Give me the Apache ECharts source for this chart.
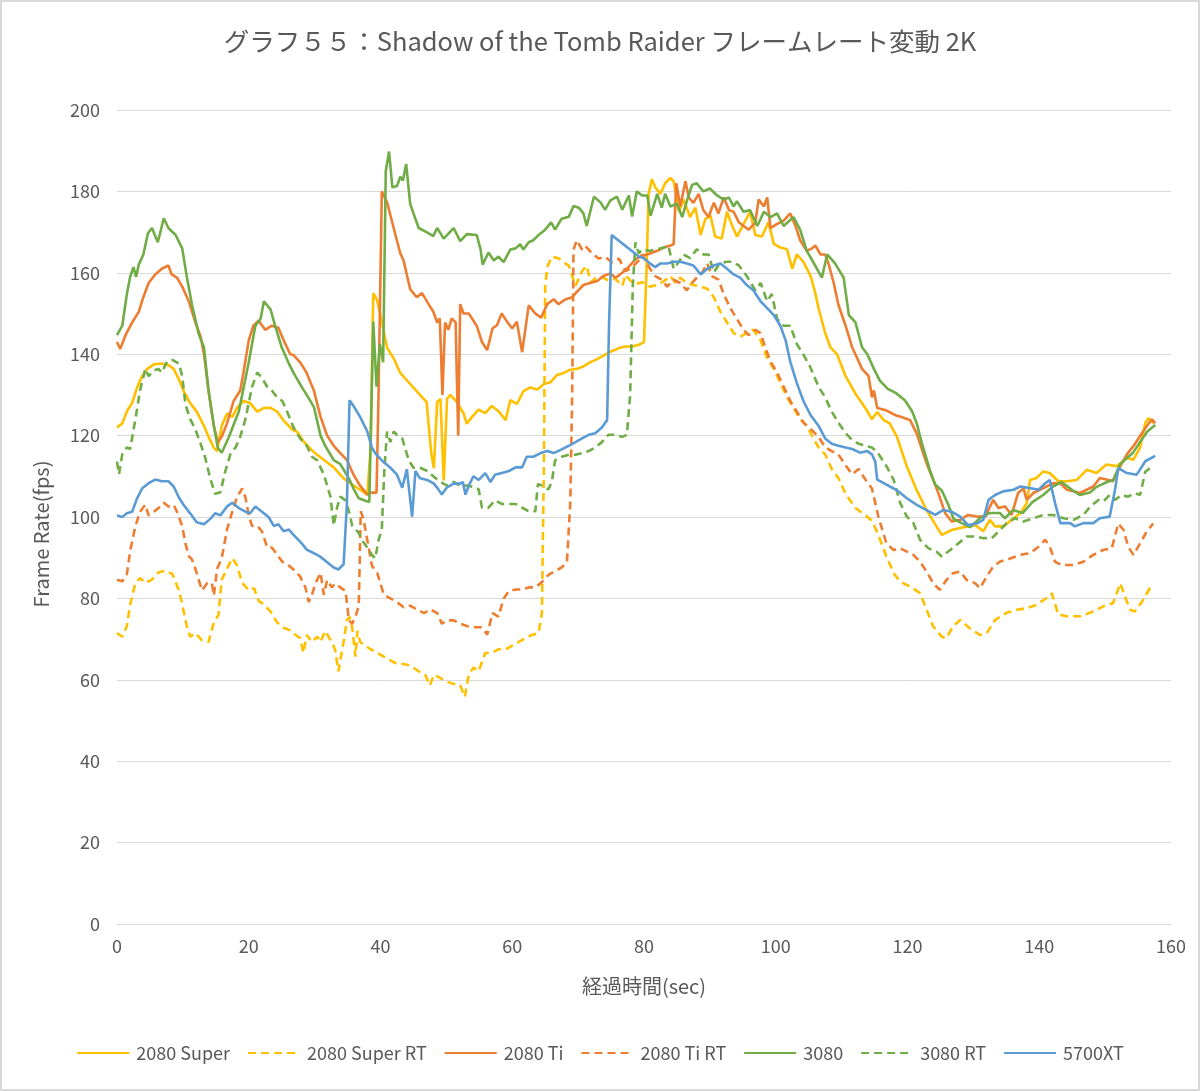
<!DOCTYPE html>
<html><head><meta charset="utf-8">
<script src="https://cdn.jsdelivr.net/npm/echarts@6/dist/echarts.min.js"></script>
<style>
html,body{margin:0;padding:0;background:#fff;}
#chart{position:absolute;left:0;top:0;width:1200px;height:1091px;}
#frame{position:absolute;left:0;top:0;width:1200px;height:1091px;box-sizing:border-box;border:2px solid #d9d9d9;pointer-events:none;}
</style></head>
<body>
<div id="chart"></div><div id="frame"></div>
<script>
const seriesNames = ['2080 Super','2080 Super RT','2080 Ti','2080 Ti RT','3080','3080 RT','5700XT'];
const xTicks = [0,20,40,60,80,100,120,140,160];
const yTicks = [0,20,40,60,80,100,120,140,160,180,200];

const s2080S = [[0,122],[0.8,123],[1.5,126],[2.3,128],[3,131.6],[3.8,134.6],[4.6,136.4],[5.6,137.5],[6.8,137.7],[7.8,137.3],[8.6,136.4],[9.4,133.8],[10.1,131],[11.1,128],[12.1,125.9],[13.2,122.4],[13.9,119.7],[14.7,117],[15.2,116.2],[15.9,122.4],[16.7,125.4],[17.5,124.6],[18.2,126.8],[19.2,128.5],[20.2,128],[21.3,125.9],[22.3,126.8],[23.3,126.8],[24.3,125.9],[25.3,123.7],[26.6,121.5],[27.3,121],[28.3,118.6],[29.9,115.9],[31.4,114],[32.9,112.2],[34.4,109.5],[35.9,107.7],[37.2,106.4],[38,105.5],[38.5,116.7],[38.9,155],[39.5,153.2],[40.2,148],[41,141.6],[42,139],[43,135.4],[44,133.6],[45,131.8],[46,130],[47,128.2],[47.7,115.7],[48.1,112],[48.6,128.2],[49.1,129],[49.6,109],[50.1,129],[50.6,130],[51.6,128.2],[52.6,125.5],[53.1,122.9],[53.9,124.6],[54.9,126.4],[55.9,125.5],[56.9,127.3],[57.9,126],[59,123.8],[59.7,128.7],[60.7,127.8],[61.7,130.9],[62.7,131.8],[63.8,131.3],[64.8,132.7],[65.8,133.1],[66.8,134.9],[67.8,135.4],[68.8,136.2],[69.8,136.4],[70.8,137],[71.8,138],[72.9,138.8],[73.9,139.7],[74.9,140.6],[76.2,141.5],[77.2,141.9],[78.2,141.9],[79.2,142.3],[80,143],[80.4,161.8],[80.7,179.4],[81.2,183],[81.7,181],[82.5,179.4],[83.2,182],[84,183.3],[84.5,182.5],[85.3,175],[86,178],[87,173.7],[87.8,176],[88.6,169.3],[89.3,173.2],[90.1,174],[90.8,168.9],[91.8,168.4],[92.6,175],[93.4,171.5],[94.1,168.9],[95.1,171.9],[96.1,175],[96.9,169.3],[97.9,168.9],[98.9,172.4],[99.7,167.1],[100.7,166.2],[101.7,165.8],[102.5,161],[103.2,164.5],[104.2,162.7],[105.3,159.2],[106,155],[106.5,151.3],[107.5,145.2],[108.3,141.7],[109.3,140],[110.6,134.6],[112.1,130.3],[113.6,126.8],[114.6,124],[115.4,125.8],[116.4,123.8],[117.3,123],[118.4,119.7],[119.9,112.4],[121.4,106.6],[122.9,101.7],[124.4,97.7],[125.2,95.6],[126.7,96.8],[128.5,97.5],[130.3,98],[131.5,96.5],[132.5,99.3],[133.3,97.7],[134.6,97.7],[135.8,99.3],[137.1,100.9],[138.1,103.4],[138.6,109.1],[139.6,109.6],[140.6,111.2],[141.6,110.8],[142.9,108.8],[144.2,108.8],[145.7,109.1],[147.2,111.6],[148.7,110.8],[150.2,112.9],[151.8,112.5],[153.3,114.5],[154.3,114.1],[155.3,117],[156.1,123.1],[156.6,124.3],[157.3,123.1]];

const s2080SRT = [[0,71.5],[0.8,70.6],[1.5,73.2],[2,78.5],[2.8,83.8],[3.5,85],[4.3,83.8],[5.3,84.6],[6.3,86.4],[7.3,86.8],[8.4,86],[9.4,82],[9.9,78.5],[10.6,73.2],[11.1,70.6],[11.9,71.5],[12.9,69.7],[13.9,69.3],[14.7,74.1],[15.4,75.9],[15.9,84.6],[16.7,87.3],[17.5,89.9],[18.2,88.2],[19,83.8],[20,82],[20.8,82.5],[21.5,79.4],[22.3,78.5],[23.3,76.8],[24.3,74.1],[25.3,72.8],[26.2,72.2],[27.8,70.2],[28.3,66.6],[28.8,71],[29.6,69.3],[30.4,70.6],[30.9,69.3],[31.6,72],[32.4,69.8],[33.1,67.5],[33.6,62.1],[34.4,69.3],[34.9,74.6],[35.3,75.5],[35.7,72.9],[36.2,65.7],[36.5,72],[36.9,69.3],[37.7,68.4],[38.5,67.5],[39.5,66.6],[40.5,65.7],[41.5,64.8],[42.5,63.9],[43.5,63.9],[44.5,63.5],[45.8,62.1],[46.8,61.2],[47.5,58.6],[48.1,61.2],[49.1,60.4],[50.1,59.5],[51.1,59],[52.1,58.6],[52.8,55.8],[53.4,61.2],[54.1,63],[54.9,62.1],[55.9,66.6],[56.9,66.6],[57.9,67.5],[59,67.5],[60,68.4],[61,69.3],[62,70.2],[63,71],[64,71.5],[64.5,76.4],[64.8,112],[65,156.8],[65.3,161.3],[66,164],[67.1,163.5],[67.8,162.6],[68.6,161.7],[69.6,156.8],[70.6,160.4],[71.3,161.7],[71.9,157.7],[72.6,158.6],[73.6,159],[74.6,158.1],[75.6,158.6],[76.7,156.8],[77.2,159.5],[77.9,158.1],[78.7,157.2],[79.7,157.7],[80.9,156.6],[82,157],[83,157.9],[84,159.2],[84.8,157.5],[85.5,158.8],[86.5,157.5],[87.5,157],[88.6,156.6],[89.6,156.1],[90.6,154],[91.6,150.4],[92.6,147.8],[93.6,145.2],[94.6,144.3],[95.6,145.2],[96.6,146],[97.7,143.4],[98.7,139],[99.7,136.4],[100.7,132.9],[101.7,129.4],[102.7,126.8],[103.7,124.1],[104.7,122.4],[105.5,120],[106.5,117.1],[107.5,115.4],[108.5,111.8],[109.5,109.6],[110.6,105.7],[112.1,102.2],[113.6,100.4],[114.6,99.1],[115.6,95.5],[116.8,90.3],[117.9,86.2],[118.9,84.1],[120.4,82.9],[121.9,81.3],[122.9,77.2],[123.9,73.1],[125.2,70.6],[125.9,70.2],[126.9,73.1],[128,74.7],[129.5,72.6],[131,71],[132,71.4],[133.3,74.7],[135,76.4],[136.6,77.2],[138.1,77.6],[139.6,78.4],[141.1,80.1],[141.9,81.3],[142.9,76],[144.2,75.6],[146.2,75.6],[148.2,76.8],[150.2,78.4],[151.2,78.8],[152.3,83.7],[153,80.5],[153.8,77.2],[154.5,76.8],[155.6,79.2],[156.8,82.5],[157.3,83]];

const s2080Ti = [[0,143],[0.5,141.3],[1.3,144.7],[2.3,147.8],[3.3,150.4],[4,154],[4.8,157.5],[5.8,159.6],[6.8,161],[7.8,161.8],[8.3,159.6],[9.1,158.8],[9.9,156.6],[10.9,153],[11.9,147.8],[12.7,144.3],[13.2,140],[13.9,131],[14.7,122.4],[15.3,118.4],[15.9,119.7],[16.7,123],[17.7,128.5],[18.7,131],[19.2,135.5],[20,143.4],[20.7,147],[21.5,148.2],[22.5,146],[23.5,147],[24.5,146.5],[25.3,143.4],[26.3,140],[26.8,139.8],[27.8,138],[28.8,135.4],[29.9,131],[30.9,124.6],[31.9,120],[32.9,117.5],[33.9,115.7],[34.9,114],[35.9,110.4],[36.9,107.7],[38,105.5],[38.7,106],[39.4,106],[39.7,130],[40.2,180],[41,177.3],[42,171],[43,164.8],[43.5,163],[44.5,156],[45.5,154],[46.3,155],[47.3,152.3],[48,150.5],[48.6,147.8],[49,148.8],[49.4,130],[49.8,147.8],[50.3,146],[50.8,148.8],[51.4,147.8],[51.8,120],[52.1,152.3],[52.6,150],[53.4,150],[54.6,147],[55.4,143],[56.2,141],[57,146.3],[57.7,147.2],[58.4,150],[59.2,148],[60,146.3],[60.7,148],[61.5,140.5],[62.5,152],[63.5,150],[64.4,149],[65.3,152.3],[66.3,153.5],[67,152.3],[68.1,153.5],[69.1,154],[69.8,155.3],[70.8,157],[71.8,157.5],[72.9,158],[73.9,159.3],[74.9,159.8],[75.7,158.8],[76.7,160],[77.7,161.5],[78.7,163.3],[79.7,164.2],[80.5,164.5],[82,165.4],[83,166.2],[84,166.7],[84.5,167],[84.9,182],[85.5,176.3],[86.3,182.5],[86.8,178.5],[87.5,177.2],[88.3,179.4],[89,175.4],[89.8,173.7],[90.6,177.2],[91.3,174.6],[92.1,178.5],[92.9,175.4],[93.6,175],[94.4,172.4],[95.1,171.5],[95.9,170.6],[96.9,172.4],[97.4,178],[98.2,176.3],[98.7,178.5],[99.2,171],[100.2,172],[101.2,172.8],[102.2,174.6],[103,171.5],[103.7,168],[104.7,165.4],[105.5,166],[106,166.7],[106.8,164.5],[107.5,164.5],[108,162.3],[108.8,157.5],[109.5,152.2],[110.6,147],[111.6,141.7],[113.1,136.4],[114.1,134.6],[114.6,129.4],[114.9,131.1],[115.4,126.8],[116.6,126.3],[118.2,125],[119.2,124.5],[120.4,123.8],[121.4,120.5],[122.9,113.2],[124.7,105.8],[125.7,101],[126.7,98.9],[128,99.3],[129.2,100.5],[130.5,100.1],[131.8,100.1],[132.5,102.5],[133,104.2],[133.8,102.2],[134.8,102.6],[135.8,100.5],[136.8,105.9],[137.6,107.1],[138.1,104.2],[139.1,105.9],[140.1,106.7],[141.1,107.5],[142.1,108.3],[143.2,108.3],[144.2,106.7],[145.2,106.3],[146.2,105.9],[147.2,106.7],[148.2,107.5],[149.2,109.6],[150.2,109.2],[151.2,108.8],[152.3,112.5],[153.3,115.4],[154.3,117.4],[155.3,119.9],[156.3,122.3],[157.1,124],[157.6,123]];

const s2080TiRT = [[0,84.6],[0.8,84.2],[1.5,86],[2,91.7],[2.8,97.8],[3.5,101.3],[4.3,103],[4.8,100.4],[5.6,101.3],[6.3,102.2],[7.1,103.5],[7.8,102.6],[8.6,103],[9.1,101.3],[9.9,97.8],[10.4,93.4],[10.9,90.4],[11.4,89.5],[11.9,87.3],[12.4,84.6],[12.9,82],[13.7,83.8],[14.4,83.8],[14.7,80.7],[15.2,87.3],[15.9,89.9],[16.7,96.9],[17.5,101.3],[18.2,104.8],[19,107],[19.5,104.8],[20,100.4],[20.5,97.8],[21.3,97.8],[22,96.5],[22.8,92.5],[23.5,92.5],[24.3,90.8],[25.1,89],[25.8,88.5],[26.8,87.1],[27.8,85.4],[28.6,82.7],[29.1,79.1],[29.6,80.9],[30.1,83.6],[30.9,86.3],[31.4,80.9],[31.9,84.5],[32.6,82.7],[33.1,83.6],[33.9,82.7],[34.7,81.8],[35.2,74.6],[35.7,73.8],[36.2,75.5],[36.7,78.2],[37,101.4],[37.4,99.6],[38,94.3],[38.7,88],[39.5,86.3],[40.5,80.9],[41.5,80],[42.5,79.1],[43.5,77.8],[44.5,78.2],[45.5,77.3],[46.6,76.4],[47.6,77.3],[48.6,76.4],[49.3,73.8],[50.1,74.6],[51.1,74.6],[52.1,73.8],[53.1,73.2],[54.4,72.9],[55.4,72.9],[56.2,71.1],[57,76.4],[57.9,75.5],[58.7,80],[59.5,81.8],[60.5,82.2],[61.5,82.2],[62.5,82.7],[63.5,82.7],[64.5,84],[65.5,85.8],[66.5,86.7],[67.5,87.6],[68.3,88.9],[68.8,103.2],[69.1,130],[69.3,165.7],[69.8,168],[70.6,165.7],[71.1,166.6],[72.1,164.8],[73.1,163.5],[74.1,163.9],[75.1,162.6],[76.2,163.5],[77.2,160.4],[78.2,161.3],[79.2,163],[79.7,164.5],[80,163.6],[80.9,161],[81.7,159.2],[82.7,158.3],[83.5,156.6],[84.5,158.3],[85.5,157.5],[86.5,155.7],[87.3,157.5],[88,158.8],[88.8,160],[89.6,162.3],[90.3,159.2],[91.3,158.3],[92.1,154.8],[93.1,151.3],[94.1,148.7],[95.1,146],[95.9,144.7],[96.9,146],[97.7,145.2],[98.4,141.7],[99.2,138.2],[100.2,135.5],[101.2,132],[102.2,128.5],[103.2,125.9],[104.2,123.2],[105.2,121.8],[106.5,119.7],[107.5,117.1],[108.5,116.2],[109.5,115.4],[110.6,112.7],[111.6,110.5],[112.6,111.8],[113.6,109.2],[114.6,107],[115.6,100],[116.8,93.5],[117.9,91.9],[118.9,92.3],[119.9,91.5],[120.9,90.7],[121.9,89],[122.9,86.6],[123.9,83.7],[124.9,82.1],[125.9,84.5],[126.9,86.2],[128,86.6],[129,84.5],[130.3,83.7],[131,82.5],[132,85.3],[133,87.8],[134,89],[135.6,89.8],[137.1,90.7],[138.6,91.1],[139.9,92.7],[140.9,94.4],[141.6,92.7],[142.4,89],[143.4,88.2],[145.2,88.2],[146.7,89],[148.2,90.7],[149.7,91.9],[151,92.3],[152,98.4],[152.8,96.8],[153.5,92.7],[154.3,90.7],[155.3,93.5],[156.3,96.4],[157.3,98.4]];

const s3080 = [[0,144.7],[0.8,147],[1.5,154.8],[2,159],[2.5,161.4],[2.9,159],[3.3,162],[4,164.5],[4.7,169.7],[5.3,171],[6.2,167.5],[7.1,173.4],[7.8,171],[8.9,169.3],[9.9,166],[10.6,159],[11.4,152],[12.4,145],[13.2,141.7],[13.9,131],[14.7,122.4],[15.3,117],[15.9,115.8],[17,119.7],[18.5,126],[20,138],[21,147],[21.8,148.7],[22.3,153],[23.3,151],[24,147],[25,141.7],[26,138],[26.8,135.4],[28.1,131.8],[28.8,130],[29.9,127],[30.9,120],[31.6,117.5],[32.9,114],[33.9,113],[35.2,109.5],[35.9,107],[36.7,104.6],[37.7,104],[38.3,103.7],[38.9,148],[39.4,132],[39.9,142.5],[40.4,138],[40.8,185],[41.3,189.8],[41.8,181],[42.5,181.3],[43,183.6],[43.4,182.7],[43.9,186.7],[44.5,177],[45,174.6],[45.8,171],[47,170],[48,169],[48.6,171],[49.6,168.4],[51.1,171],[52.1,167.8],[53.1,169.5],[54.6,169.3],[55.2,165.7],[55.5,162],[56.4,165],[57.2,163],[57.9,164],[58.7,162.6],[59.7,165.7],[60.5,166],[61.2,167],[61.7,165.7],[62.5,167.5],[63.2,168],[64,169.3],[65,170.6],[65.9,172.4],[66.5,170.6],[67.5,173.3],[68.6,173.8],[69.3,176.4],[70.1,176],[70.8,174.6],[71.3,171.5],[72.4,178.7],[73.4,177.3],[74.1,175.5],[74.9,177.8],[75.9,178.7],[76.7,175.5],[77.7,179],[78.2,173.8],[78.9,180],[79.7,179],[80.5,179],[81,174],[82,179.4],[82.7,176],[83.2,179.4],[84,176.3],[85,177],[85.8,173.7],[86.5,177.6],[87.3,181.6],[88,182],[89,180],[90,180.7],[91.1,179],[92.1,178],[92.9,178.5],[93.6,176.3],[94.1,177.6],[95.1,175],[96.1,175.4],[97.2,171.5],[98.2,175],[99.2,173.7],[100.2,174.6],[101.2,171.5],[102.7,173.7],[103.7,170.6],[104.7,165.4],[105.5,163.2],[107,158.8],[107.8,164.5],[109,162.3],[110.3,158.8],[111.1,149.6],[112.1,147.8],[113.1,141.7],[113.9,140],[114.9,136.4],[115.8,133.5],[117,131.5],[118.2,130.5],[119.6,128.7],[120.7,126],[121.4,123],[122.2,118],[123.4,111.5],[124.2,108],[125.2,106.5],[126.2,103],[127,99.5],[128,98.7],[129.5,97.5],[131,99.7],[132.5,101],[134,101],[134.8,99.7],[136,101.7],[137.5,101],[139,103.7],[140.6,105.4],[142,107.4],[143.4,108.6],[145,106.6],[146.2,105.4],[147.7,106],[148.7,107.4],[150.3,108.6],[151.2,109],[152.3,113],[153.3,114.5],[154.2,115.7],[155.3,118.4],[156.4,121],[157.6,122.6]];

const s3080RT = [[0,113.6],[0.3,110.5],[0.8,115.4],[1.5,117.1],[2,116.7],[2.8,124.1],[3.5,131.1],[4.3,136.4],[4.8,134.6],[5.6,136],[6.3,136.4],[6.8,135.5],[7.6,138.2],[8.4,138.6],[9.4,137.7],[9.9,134.6],[10.4,127.6],[11.1,124.1],[11.9,121.5],[12.7,118],[13.4,114.5],[14.2,109.2],[14.9,105.7],[15.7,106.1],[16.4,111],[17.2,115.4],[18,117.1],[18.7,119.7],[19.5,124.1],[20.5,132],[21.3,135.5],[22,134.2],[22.8,132],[23.5,131.1],[24.3,129.4],[25.1,128.5],[25.8,126],[26.8,122],[27.8,119.3],[28.8,117.5],[29.6,114.8],[30.4,113.9],[31.4,110.4],[31.9,107.7],[32.4,105],[32.9,97.9],[33.4,102.3],[33.9,105],[34.7,104.1],[35.2,101.4],[35.7,97.9],[36.2,97],[36.7,96.1],[37.2,94.3],[38,92.5],[38.7,90.7],[39.2,89.8],[39.7,94.3],[40.2,97],[40.6,112.1],[41,121],[41.5,118.4],[42,121],[42.5,120.2],[43.3,119.3],[43.8,116.6],[44.3,113.9],[45,112.1],[46,112.1],[47.1,111.3],[48.1,109.9],[49.1,108.6],[50.1,107.7],[51.1,108.6],[52.1,107.7],[53.4,107.7],[54.4,107.2],[54.9,106.8],[55.4,102.3],[56.4,102.3],[57.4,104.1],[58.4,103.2],[59.5,103.2],[60.5,103.2],[61.5,102.3],[62.5,101.4],[63.5,101.4],[63.9,108.1],[64.5,107.7],[65.5,106.8],[66,108.6],[66.5,113.9],[67.5,114.8],[68.6,115.3],[69.6,115.3],[70.6,115.7],[71.6,116.2],[72.6,117.1],[73.6,118.4],[74.6,120.2],[75.6,120.2],[76.7,119.7],[77.4,120.2],[77.9,130],[78.3,156.8],[78.7,167.5],[79.2,164.8],[79.7,165.7],[80.9,165.4],[82,165.8],[83,166.2],[83.7,166.7],[84.5,161],[85.3,162.7],[86,164.5],[87,163.6],[88,165.8],[89,164.5],[89.8,164.5],[90.6,160.1],[91.3,161.8],[92.4,162.7],[93.4,162.7],[94.4,161.8],[95.6,159.2],[96.9,155.7],[97.7,157.5],[98.7,153],[99.4,154.8],[100.2,148.7],[101.2,147],[102.2,147],[103.2,142.5],[104.2,139.9],[105.2,137],[106.5,132],[107.5,129.4],[108.5,125.9],[109.5,123.2],[110.6,120.6],[111.6,118.9],[112.6,118],[113.6,117.5],[114.6,117.1],[115.4,116],[116.8,112.5],[117.9,109.1],[118.9,103.4],[119.9,100.1],[120.9,98.5],[121.9,94.4],[123.2,92.3],[124.4,91.5],[125.2,90.3],[126.5,91.9],[127.7,93.5],[129,95.2],[130.3,95.2],[131.5,94.8],[132.8,94.8],[133.8,96.4],[135,98.4],[136.3,99.7],[137.6,98.9],[139.1,99.7],[140.6,100.5],[142.1,100.5],[143.7,99.7],[145.2,99.3],[146.7,100.5],[147.7,102.5],[149,104.2],[149.7,103.8],[150.7,105.4],[151.5,104.2],[152.5,105.4],[153.5,105],[154.5,105.9],[155.3,105.4],[156.1,111.1],[157.1,112.4]];

const s5700XT = [[0,100.4],[0.8,100],[1.5,100.9],[2.3,101.3],[3,104.4],[3.8,107],[4.8,108.3],[5.8,109.2],[6.8,108.8],[7.8,108.8],[8.6,107.5],[9.4,104.8],[10.1,103],[11.1,100.9],[12.1,98.7],[13.2,98.2],[14.2,99.6],[14.9,100.9],[15.7,100.4],[16.7,102.6],[17.5,103.5],[18.5,102.2],[19.5,101.3],[20.2,100.9],[21,102.6],[22,101.3],[23,100],[23.8,97.8],[24.5,98.2],[25.3,96.5],[26.1,96.9],[26.8,95.6],[28.1,93.4],[28.8,92],[29.9,91.1],[30.9,90.2],[31.9,88.9],[32.9,87.6],[33.6,87.1],[34.4,88.4],[34.9,103.3],[35.3,128.7],[35.9,127.3],[36.9,124.6],[38,121],[38.7,117],[39.2,115.7],[40.2,113.9],[41.5,112.1],[42.5,110.4],[43.3,107.2],[44,111.7],[44.8,100.1],[45.3,111.3],[46,109.5],[47.1,109.1],[48.1,108.2],[48.8,106.8],[49.3,105.5],[50.1,107.3],[51.1,108.2],[52.1,108.2],[52.5,108.6],[52.9,105.5],[53.4,107.7],[54.1,110],[54.9,109.1],[55.9,110.8],[56.7,108.6],[57.4,110.4],[58.4,110.8],[59.5,111.3],[60.5,112.2],[61.5,112.2],[62.2,114.8],[63.2,114.8],[64.3,115.7],[65.3,116.2],[66.3,115.7],[67.5,116.6],[68.6,117.5],[69.6,118.4],[70.6,119.3],[71.6,120.2],[72.6,120.6],[73.6,122],[74.4,123.8],[74.7,147.8],[75.1,169.3],[76.1,168],[77.2,166.6],[78.2,165.3],[79.2,164],[80,163.6],[80.9,162.3],[81.7,161.4],[82.5,162.3],[83.5,162.3],[84.5,162.7],[85.5,162.7],[86.5,162.3],[87.5,161.8],[88.6,159.6],[89.6,161],[90.6,161.8],[91.6,162.3],[92.6,161],[93.6,159.6],[94.6,158.8],[95.6,157],[96.6,155.7],[97.7,153],[98.7,151.3],[99.7,149.6],[100.7,147],[101.5,143.4],[102.2,138.2],[103.2,132.9],[104.2,128.5],[105.3,125],[106.5,122.4],[107.5,119.3],[108.5,118],[109.5,117.5],[110.6,117.1],[111.6,116.7],[112.8,115.8],[113.9,116.2],[114.6,115.4],[115.1,113.6],[115.4,109.2],[116.4,108.3],[117.3,107.5],[118.4,106.6],[119.9,104.6],[121.4,103],[122.9,101.7],[124.2,100.5],[125.4,101.7],[126.7,101.3],[128,100.1],[129.2,98],[130.5,98.4],[131.5,99.3],[132.3,104.2],[133.3,105.4],[134.5,106.3],[136.1,106.7],[137.1,107.5],[138.6,107.1],[139.9,106.7],[140.9,108.3],[141.6,109.1],[142.4,103.4],[143.2,98.5],[144.7,98.5],[145.4,97.7],[146.7,98.5],[148.2,98.5],[149.2,99.7],[150.7,100.1],[151.5,106.7],[152,112],[153.3,110.8],[154.8,110.4],[156.1,113.7],[157.6,115]];

const seriesData = [s2080S, s2080SRT, s2080Ti, s2080TiRT, s3080, s3080RT, s5700XT];
const seriesColors = ['#FFC000','#FFC000','#ED7D31','#ED7D31','#70AD47','#70AD47','#5B9BD5'];
const seriesDashed = [false,true,false,true,false,true,false];

const FONT = '"Noto Sans CJK JP", "Noto Sans", sans-serif';
const chart = echarts.init(document.getElementById('chart'), null, {renderer:'canvas'});
chart.setOption({
  animation: false,
  backgroundColor: '#ffffff',
  title: {
    text: 'グラフ５５：Shadow of the Tomb Raider フレームレート変動 2K',
    left: 'center', top: 24,
    textStyle: {fontFamily: FONT, fontSize: 25.5, fontWeight: 'normal', color: '#595959'}
  },
  grid: {left: 117, right: 29, top: 110, bottom: 167, containLabel: false},
  xAxis: {
    type: 'value', min: xTicks[0], max: xTicks[xTicks.length-1], interval: 20,
    axisLine: {show: true, lineStyle: {color: '#d9d9d9', width: 1}},
    axisTick: {show: false},
    splitLine: {show: false},
    axisLabel: {color: '#595959', fontSize: 18, fontFamily: FONT, margin: 13},
    name: '経過時間(sec)', nameLocation: 'middle', nameGap: 52,
    nameTextStyle: {color: '#595959', fontSize: 20, fontFamily: FONT}
  },
  yAxis: {
    type: 'value', min: yTicks[0], max: yTicks[yTicks.length-1], interval: 20,
    axisLine: {show: false}, axisTick: {show: false},
    splitLine: {show: true, lineStyle: {color: '#d9d9d9', width: 1}},
    axisLabel: {color: '#595959', fontSize: 18, fontFamily: FONT, margin: 17},
    name: 'Frame Rate(fps)', nameLocation: 'middle', nameGap: 66, nameRotate: 90,
    nameTextStyle: {color: '#595959', fontSize: 20, fontFamily: FONT, padding: [0, 34, 0, 0]}
  },
  legend: {
    bottom: 24, left: 'center', itemWidth: 52, itemHeight: 2, itemGap: 17,
    itemStyle: {opacity: 0},
    textStyle: {color: '#595959', fontSize: 18, fontFamily: FONT, padding: [0, 0, 0, 2]},
    data: seriesNames
  },
  series: seriesNames.map((n, i) => ({
    name: n, type: 'line', data: seriesData[i],
    showSymbol: false, symbol: 'none', smooth: false,
    lineStyle: {color: seriesColors[i], width: 2.6, type: seriesDashed[i] ? [8, 5] : 'solid'},
    itemStyle: {color: seriesColors[i]},
    emphasis: {disabled: true}
  }))
});
</script>
</body></html>
